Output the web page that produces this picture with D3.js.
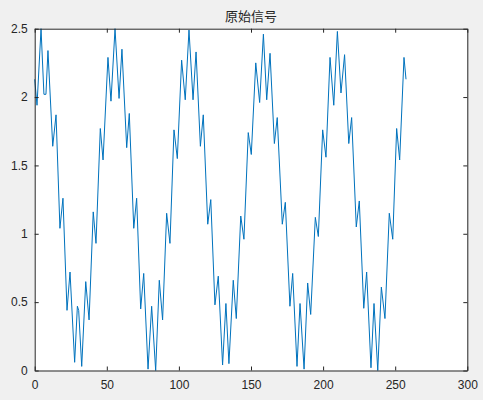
<!DOCTYPE html>
<html>
<head>
<meta charset="utf-8">
<script src="https://cdn.jsdelivr.net/npm/d3@7"></script>
<style>
  html, body { margin: 0; padding: 0; background: #f0f0f0; }
  svg { display: block; }
  .tick text { font-family: "Liberation Sans", Arial, sans-serif; font-size: 12px; fill: #262626; }
  .domain, .tick line { stroke: #262626; }
</style>
</head>
<body>
<svg id="vis" width="483" height="400"></svg>
<script>
// turning points of the signal (sample index, amplitude)
const sampleIdx = [
  0.0, 1.6, 4.4, 6.4, 7.8, 9.2, 12.5, 14.8, 17.5, 19.6,
  22.4, 24.5, 27.7, 29.6, 30.5, 32.6, 35.4, 37.7, 40.6, 42.5,
  45.5, 47.4, 50.8, 52.9, 55.7, 58.5, 60.5, 63.8, 65.6, 68.7,
  70.7, 73.5, 75.6, 78.6, 81.1, 83.9, 86.4, 88.7, 91.5, 93.8,
  96.6, 98.9, 101.9, 104.4, 107.0, 109.8, 111.9, 114.9, 116.9, 120.0,
  122.1, 125.0, 127.3, 130.3, 132.6, 134.7, 137.7, 139.8, 142.9, 145.1,
  148.1, 150.2, 153.3, 156.0, 158.6, 160.9, 163.2, 166.2, 168.2, 171.7,
  173.8, 177.0, 178.9, 181.9, 184.0, 186.8, 189.3, 191.4, 194.6, 196.7,
  199.7, 202.0, 204.8, 207.4, 209.9, 212.4, 214.9, 217.8, 219.8, 223.0,
  225.1, 228.2, 230.2, 233.2, 235.3, 237.9, 240.4, 242.9, 245.9, 248.3,
  251.0, 253.1, 256.1, 257.5
];
const amplitude = [
  2.13, 1.94, 2.50, 2.02, 2.02, 2.34, 1.64, 1.87, 1.04, 1.26,
  0.44, 0.72, 0.06, 0.47, 0.44, 0.03, 0.65, 0.37, 1.16, 0.93,
  1.77, 1.54, 2.29, 1.97, 2.50, 1.99, 2.35, 1.63, 1.88, 1.04,
  1.26, 0.45, 0.71, 0.01, 0.47, 0.00, 0.66, 0.37, 1.15, 0.93,
  1.76, 1.55, 2.27, 1.98, 2.49, 1.98, 2.33, 1.64, 1.87, 1.07,
  1.25, 0.48, 0.69, 0.04, 0.49, 0.05, 0.66, 0.38, 1.13, 0.96,
  1.74, 1.58, 2.25, 1.96, 2.46, 1.98, 2.32, 1.66, 1.85, 1.07,
  1.23, 0.47, 0.71, 0.03, 0.49, 0.01, 0.64, 0.41, 1.12, 0.98,
  1.76, 1.56, 2.29, 1.94, 2.48, 2.03, 2.31, 1.66, 1.85, 1.05,
  1.24, 0.455, 0.72, 0.02, 0.49, 0.00, 0.61, 0.38, 1.15, 0.96,
  1.77, 1.54, 2.29, 2.13
];

const xTicks = [0, 50, 100, 150, 200, 250, 300];
const yTicks = [0, 0.5, 1, 1.5, 2, 2.5];
const title = "原始信号";

const svg = d3.select("svg#vis");
const box = { left: 34.7, right: 467.3, top: 28.7, bottom: 370.5 };

const x = d3.scaleLinear().domain([0, 300]).range([box.left, box.right]);
const y = d3.scaleLinear().domain([0, 2.5]).range([box.bottom, box.top]);

// white axes area
svg.append("rect")
  .attr("x", box.left).attr("y", box.top)
  .attr("width", box.right - box.left).attr("height", box.bottom - box.top)
  .attr("fill", "#ffffff");

const points = sampleIdx.map((n, i) => [n, amplitude[i]]);

const line = d3.line().x(d => x(d[0])).y(d => y(d[1]));

svg.append("path")
  .datum(points)
  .attr("d", line)
  .attr("fill", "none")
  .attr("stroke", "#0072bd")
  .attr("stroke-width", 1)
  .attr("stroke-linejoin", "round");

// axes, ticks pointing inward like matlab
svg.append("g")
  .attr("transform", `translate(0,${box.bottom})`)
  .call(d3.axisBottom(x).tickValues(xTicks).tickFormat(d => String(d))
    .tickSizeInner(-4).tickSizeOuter(0).tickPadding(10));

svg.append("g")
  .attr("transform", `translate(0,${box.top})`)
  .call(d3.axisTop(x).tickValues(xTicks).tickFormat("")
    .tickSizeInner(-4).tickSizeOuter(0));

svg.append("g")
  .attr("transform", `translate(${box.left},0)`)
  .call(d3.axisLeft(y).tickValues(yTicks).tickFormat(d => String(d))
    .tickSizeInner(-4).tickSizeOuter(0).tickPadding(7));

svg.append("g")
  .attr("transform", `translate(${box.right},0)`)
  .call(d3.axisRight(y).tickValues(yTicks).tickFormat("")
    .tickSizeInner(-4).tickSizeOuter(0));

svg.selectAll(".domain").attr("stroke-width", 1);

svg.append("text")
  .attr("x", (box.left + box.right) / 2)
  .attr("y", 21)
  .attr("text-anchor", "middle")
  .attr("font-family", "'Noto Sans CJK SC', sans-serif")
  .attr("font-size", 13)
  .attr("fill", "#262626")
  .text(title);
</script>
</body>
</html>
